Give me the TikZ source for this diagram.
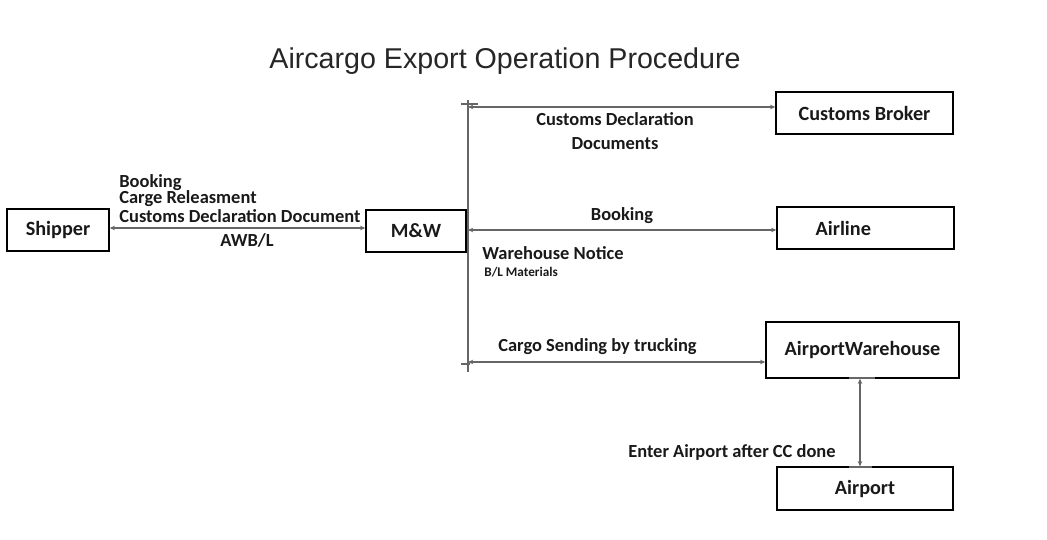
\documentclass[tikz,border=0pt]{standalone}
\usepackage{fontspec}
\setmainfont{Carlito}
\newfontfamily\titlefont{Liberation Sans}
\usetikzlibrary{positioning, arrows.meta}

\begin{document}
\begin{tikzpicture}[x=0.02cm, y=-0.02cm,
        party/.style={rectangle, draw=black, line width=0.8pt, inner sep=0pt, font=\fontsize{11.5}{13}\selectfont\bfseries, text=black!90},
        link/.style={draw, gray!80!black, line width=0.7pt, {Stealth[length=3pt, width=2.6pt]}-{Stealth[length=3pt, width=2.6pt]}},
        tick/.style={draw, gray!80!black, line width=0.7pt},
        lbl/.style={font=\fontsize{10.5}{12}\selectfont\bfseries, text=black!90, inner sep=0pt}
    ]
        \path[use as bounding box] (0,0) rectangle (1047,540);

        % Title
        \node[font=\titlefont\fontsize{16.3}{19}\selectfont, text=black!85] (title) at (505,61) {Aircargo Export Operation Procedure};

        % Parties
        \node[party, minimum width=102*0.02cm, minimum height=42*0.02cm] (shipper) at (58,230) {Shipper};
        \node[party, minimum width=100*0.02cm, minimum height=42*0.02cm] (mw) at (416,231) {M\&W};
        \node[party, minimum width=177*0.02cm, minimum height=42*0.02cm] (broker) at (864.5,113) {Customs Broker};
        \node[party, minimum width=177*0.02cm, minimum height=42*0.02cm] (airline) at (865.5,228) {\hspace*{-2.2em}Airline};
        \node[party, minimum width=193*0.02cm, minimum height=56*0.02cm] (whouse) at (862.5,350) {AirportWarehouse};
        \node[party, minimum width=176*0.02cm, minimum height=43*0.02cm] (airport) at (865,488.5) {Airport};

        % Bus line from M&W
        \coordinate (bustop) at (468,100);
        \coordinate (busbot) at (468,372);
        \draw[tick] (bustop) -- (busbot);
        \draw[tick] (461,104) -- (478,104);
        \draw[tick] (461,364) -- (470,364);

        % Connectors
        \draw[link] (shipper.east |- 0,228) -- (mw.west |- 0,228);
        \draw[link] (468,107) -- (broker.west |- 0,107);
        \draw[link] (468,230) -- (airline.west |- 0,230);
        \draw[link] (468,362) -- (whouse.west |- 0,362);
        \draw[link] (whouse.south -| 860,0) -- (airport.north -| 860,0);
        \draw[tick] (849,378) -- (875,378);
        \draw[tick] (849,467) -- (872,467);

        % Labels
        \node[lbl, anchor=west, align=left, font={\fontsize{10.5}{9.2}\selectfont\bfseries\lineskiplimit=-6pt\lineskip=0pt}] (l1) at (119,199)
            {Booking\\Carge Releasment\\[1.6pt]Customs Declaration Document};
        \node[lbl] (l4) at (247,240) {AWB/L};
        \node[lbl, align=center] (l5) at (615,131) {Customs Declaration\\[1.5pt]Documents};
        \node[lbl] (l6) at (622,216) {Booking};
        \node[lbl, anchor=west] (l7) at (482,253) {Warehouse Notice};
        \node[lbl, anchor=west, font=\fontsize{7.5}{8}\selectfont\bfseries] (l8) at (484,272) {B/L Materials};
        \node[lbl, anchor=west] (l9) at (498,347) {Cargo Sending by trucking};
        \node[lbl, anchor=east] (l10) at (836,452) {Enter Airport after CC done};

    \end{tikzpicture}
\end{document}
